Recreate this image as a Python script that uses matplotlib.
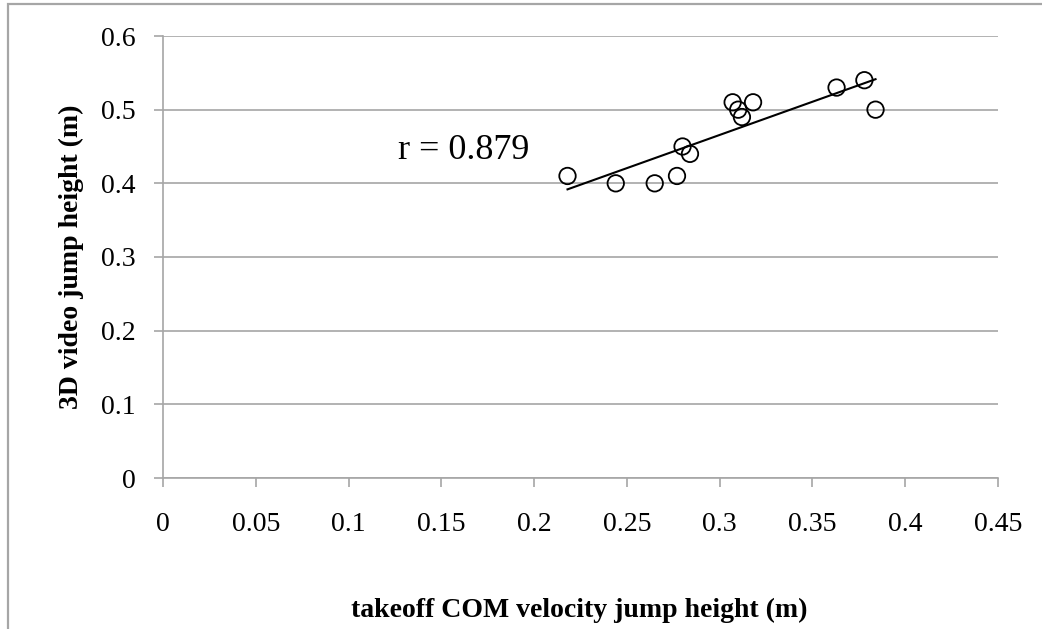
import numpy as np
import matplotlib
matplotlib.use("Agg")
import matplotlib.pyplot as plt
from matplotlib.patches import Rectangle

# ==========================================================
# DATI
# ==========================================================
takeoff_height = [0.218, 0.244, 0.265, 0.277, 0.280, 0.284,
                  0.307, 0.310, 0.312, 0.318, 0.363, 0.378, 0.384]
video_height = [0.41, 0.40, 0.40, 0.41, 0.45, 0.44,
                0.51, 0.50, 0.49, 0.51, 0.53, 0.54, 0.50]
r_label = "r = 0.879"
x_ticks = [0, 0.05, 0.1, 0.15, 0.2, 0.25, 0.3, 0.35, 0.4, 0.45]
y_ticks = [0, 0.1, 0.2, 0.3, 0.4, 0.5, 0.6]

GRAY = "#a6a6a6"
plt.rcParams["font.family"] = ["Liberation Serif", "DejaVu Serif"]

# ==========================================================
# GRAFICO
# ==========================================================
fig = plt.figure(figsize=(10.42, 6.29), dpi=100)
ax = fig.add_axes([163 / 1042, 1 - 478 / 629, 835 / 1042, 442 / 629])

# cornice esterna del grafico
fig.patches.append(Rectangle((8 / 1042, -0.1), 1.1, 1.1 - 4 / 629,
                             transform=fig.transFigure, fill=False,
                             edgecolor=GRAY, linewidth=1.6))

ax.scatter(takeoff_height, video_height, s=140, facecolors="none",
           edgecolors="black", linewidths=1.3, zorder=3)

# retta di regressione
slope, intercept = np.polyfit(takeoff_height, video_height, 1)
xs = np.array([min(takeoff_height), max(takeoff_height)])
ax.plot(xs, slope * xs + intercept, color="black", linewidth=1.5, zorder=2)

ax.text(0.1266, 0.445, r_label, fontsize=26, va="center", ha="left")

ax.set_xlim(0, 0.45)
ax.set_ylim(0, 0.6)
ax.set_xticks(x_ticks)
ax.set_xticklabels([f"{v:g}" for v in x_ticks], fontsize=20)
ax.set_yticks(y_ticks)
ax.set_yticklabels([f"{v:g}" for v in y_ticks], fontsize=20)

ax.grid(axis="y", color=GRAY, linewidth=1.2)
ax.set_axisbelow(True)
for side in ["top", "right"]:
    ax.spines[side].set_visible(False)
for side in ["left", "bottom"]:
    ax.spines[side].set_color(GRAY)
    ax.spines[side].set_linewidth(1.2)
ax.tick_params(axis="both", direction="out", length=6.5, width=1.2,
               color=GRAY, labelcolor="black")
ax.tick_params(axis="x", pad=18)
ax.tick_params(axis="y", pad=13)

ax.set_xlabel("takeoff COM velocity jump height (m)", fontsize=20,
              fontweight="bold", va="center")
ax.set_ylabel("3D video jump height (m)", fontsize=20,
              fontweight="bold", va="center")
ax.xaxis.set_label_coords(0.499, (478 - 610) / 442)
ax.yaxis.set_label_coords((71 - 163) / 835, 0.5)

fig.savefig("out.png", dpi=100)
